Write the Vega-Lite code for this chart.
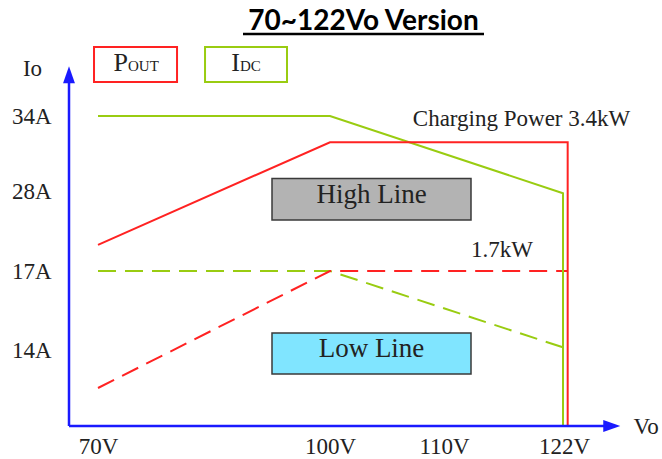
{
  "$schema": "https://vega.github.io/schema/vega-lite/v6.json",
  "width": 593,
  "height": 426,
  "autosize": "none",
  "padding": {"left": 69, "top": 0, "right": 0, "bottom": 33},
  "background": "white",
  "config": {"view": {"stroke": null}, "font": "Liberation Serif"},
  "datasets": {
    "lines": [
      {"s": "Pout", "v": 70, "i": 20.6, "o": 1},
      {"s": "Pout", "v": 100, "i": 31.9, "o": 2},
      {"s": "Pout", "v": 122.3, "i": 31.9, "o": 3},
      {"s": "Pout", "v": 122.3, "i": 11, "o": 4},
      {"s": "Idc", "v": 70, "i": 34, "o": 1},
      {"s": "Idc", "v": 100, "i": 34, "o": 2},
      {"s": "Idc", "v": 121.9, "i": 27.7, "o": 3},
      {"s": "Idc", "v": 121.9, "i": 11, "o": 4},
      {"s": "Pout low", "v": 70, "i": 12.5, "o": 1},
      {"s": "Pout low", "v": 100, "i": 17, "o": 2},
      {"s": "Pout low", "v": 122.3, "i": 17, "o": 3},
      {"s": "Idc low", "v": 70, "i": 17, "o": 1},
      {"s": "Idc low", "v": 100, "i": 17, "o": 2},
      {"s": "Idc low", "v": 121.9, "i": 14.1, "o": 3}
    ],
    "boxes": [
      {"t": "High Line", "v": 92.5, "v2": 112.7, "i": 29.0, "i2": 24.0},
      {"t": "Low Line", "v": 92.5, "v2": 112.7, "i": 14.65, "i2": 13.05}
    ],
    "legend": [
      {"s": "Pout", "v": 69.45, "v2": 80.22, "i": 39.35, "i2": 36.64},
      {"s": "Idc", "v": 83.84, "v2": 94.44, "i": 39.35, "i2": 36.64}
    ],
    "texts": [
      {"k": "box", "t": "High Line", "v": 103.64, "i": 26.35},
      {"k": "box", "t": "Low Line", "v": 103.64, "i": 13.71},
      {"k": "note", "t": "Charging Power 3.4kW", "v": 117.75, "i": 33.2},
      {"k": "note", "t": "1.7kW", "v": 115.8, "i": 18.93},
      {"k": "big", "t": "P", "v": 73.88, "i": 37.49},
      {"k": "small", "t": "OUT", "v": 73.88, "i": 37.49},
      {"k": "big", "t": "I", "v": 88.36, "i": 37.49},
      {"k": "small", "t": "DC", "v": 88.36, "i": 37.49},
      {"k": "title", "t": "70~122Vo Version", "v": 102.94, "i": 40.67}
    ],
    "underline": [{"v": 88.75, "v2": 114, "i": 40.36}],
    "axes": [
      {"a": "y", "v": 66, "v2": 66, "i": 11, "i2": 37.2},
      {"a": "x", "v": 66, "v2": 125.9, "i": 11, "i2": 11}
    ],
    "arrows": [
      {"a": "y", "v": 66, "i": 37.2},
      {"a": "x", "v": 125.9, "i": 11}
    ]
  },
  "encoding": {
    "x": {
      "field": "v",
      "type": "quantitative",
      "scale": {"domain": [66, 70, 100, 110, 122, 130], "range": [0, 29, 261, 375, 495, 593], "nice": false, "zero": false},
      "axis": {
        "values": [70, 100, 110, 122],
        "labelExpr": "datum.value + 'V'",
        "domain": false, "ticks": false, "grid": false,
        "labelFont": "Liberation Serif", "labelFontSize": 23, "labelColor": "#222222",
        "labelBaseline": "alphabetic", "labelPadding": 27, "labelDx": 5,
        "labelFlush": false, "labelOverlap": false,
        "title": "Vo", "titleFont": "Liberation Serif", "titleFontSize": 23, "titleFontWeight": "normal",
        "titleColor": "#222222", "titleX": 564, "titleY": 7, "titleAlign": "left", "titleBaseline": "alphabetic"
      }
    },
    "y": {
      "field": "i",
      "type": "quantitative",
      "scale": {"domain": [11, 14, 17, 28, 34, 43], "range": [426, 350, 271, 191, 116, 0], "nice": false, "zero": false},
      "axis": {
        "values": [14, 17, 28, 34],
        "labelExpr": "datum.value + 'A'",
        "domain": false, "ticks": false, "grid": false,
        "labelFont": "Liberation Serif", "labelFontSize": 23, "labelColor": "#222222",
        "labelBaseline": "middle", "labelPadding": 18,
        "labelFlush": false, "labelOverlap": false,
        "title": "Io", "titleFont": "Liberation Serif", "titleFontSize": 23, "titleFontWeight": "normal",
        "titleColor": "#222222", "titleAngle": 0, "titleX": -37, "titleY": 75, "titleAlign": "center", "titleBaseline": "alphabetic"
      }
    }
  },
  "layer": [
    {
      "data": {"name": "boxes"},
      "mark": {"type": "rect", "stroke": "#3a3a3a", "strokeWidth": 1.5},
      "encoding": {
        "x2": {"field": "v2"},
        "y2": {"field": "i2"},
        "fill": {"field": "t", "type": "nominal", "scale": {"domain": ["High Line", "Low Line"], "range": ["#b3b3b3", "#80e5ff"]}, "legend": null}
      }
    },
    {
      "data": {"name": "lines"},
      "transform": [{"filter": "datum.s == 'Idc low'"}],
      "mark": {"type": "line", "color": "#99cc11", "strokeWidth": 2, "strokeDash": [18, 9]},
      "encoding": {"order": {"field": "o", "type": "quantitative"}}
    },
    {
      "data": {"name": "lines"},
      "transform": [{"filter": "datum.s == 'Pout low'"}],
      "mark": {"type": "line", "color": "#ff2222", "strokeWidth": 2, "strokeDash": [18, 9]},
      "encoding": {"order": {"field": "o", "type": "quantitative"}}
    },
    {
      "data": {"name": "lines"},
      "transform": [{"filter": "datum.s == 'Idc'"}],
      "mark": {"type": "line", "color": "#99cc11", "strokeWidth": 2},
      "encoding": {"order": {"field": "o", "type": "quantitative"}}
    },
    {
      "data": {"name": "lines"},
      "transform": [{"filter": "datum.s == 'Pout'"}],
      "mark": {"type": "line", "color": "#ff2222", "strokeWidth": 2},
      "encoding": {"order": {"field": "o", "type": "quantitative"}}
    },
    {
      "data": {"name": "legend"},
      "transform": [{"filter": "datum.s == 'Pout'"}],
      "mark": {"type": "rect", "fill": "white", "stroke": "#ff2222", "strokeWidth": 2},
      "encoding": {"x2": {"field": "v2"}, "y2": {"field": "i2"}}
    },
    {
      "data": {"name": "legend"},
      "transform": [{"filter": "datum.s == 'Idc'"}],
      "mark": {"type": "rect", "fill": "white", "stroke": "#99cc11", "strokeWidth": 2},
      "encoding": {"x2": {"field": "v2"}, "y2": {"field": "i2"}}
    },
    {
      "data": {"name": "axes"},
      "mark": {"type": "rule", "color": "#1a1aff", "strokeWidth": 2.5},
      "encoding": {"x2": {"field": "v2"}, "y2": {"field": "i2"}}
    },
    {
      "data": {"name": "arrows"},
      "transform": [{"filter": "datum.a == 'x'"}],
      "mark": {"type": "point", "shape": "M-1,-0.7L1,0L-1,0.7Z", "size": 289, "filled": true, "color": "#1a1aff", "opacity": 1}
    },
    {
      "data": {"name": "arrows"},
      "transform": [{"filter": "datum.a == 'y'"}],
      "mark": {"type": "point", "shape": "M-0.7,1L0,-1L0.7,1Z", "size": 289, "filled": true, "color": "#1a1aff", "opacity": 1}
    },
    {
      "data": {"name": "texts"},
      "transform": [{"filter": "datum.k == 'box'"}],
      "mark": {"type": "text", "font": "Liberation Serif", "fontSize": 27, "color": "#222222", "align": "center", "baseline": "alphabetic"},
      "encoding": {"text": {"field": "t"}}
    },
    {
      "data": {"name": "texts"},
      "transform": [{"filter": "datum.k == 'note'"}],
      "mark": {"type": "text", "font": "Liberation Serif", "fontSize": 23, "color": "#222222", "align": "center", "baseline": "alphabetic"},
      "encoding": {"text": {"field": "t"}}
    },
    {
      "data": {"name": "texts"},
      "transform": [{"filter": "datum.k == 'big'"}],
      "mark": {"type": "text", "font": "Liberation Serif", "fontSize": 26, "color": "#222222", "align": "right", "baseline": "alphabetic"},
      "encoding": {"text": {"field": "t"}}
    },
    {
      "data": {"name": "texts"},
      "transform": [{"filter": "datum.k == 'small'"}],
      "mark": {"type": "text", "font": "Liberation Serif", "fontSize": 15, "color": "#222222", "align": "left", "baseline": "alphabetic"},
      "encoding": {"text": {"field": "t"}}
    },
    {
      "data": {"name": "texts"},
      "transform": [{"filter": "datum.k == 'title'"}],
      "mark": {"type": "text", "font": "Lato", "fontWeight": "bold", "fontSize": 28, "color": "#000000", "align": "center", "baseline": "alphabetic"},
      "encoding": {"text": {"field": "t"}}
    },
    {
      "data": {"name": "underline"},
      "mark": {"type": "rule", "color": "#000000", "strokeWidth": 2.5},
      "encoding": {"x2": {"field": "v2"}}
    }
  ]
}
